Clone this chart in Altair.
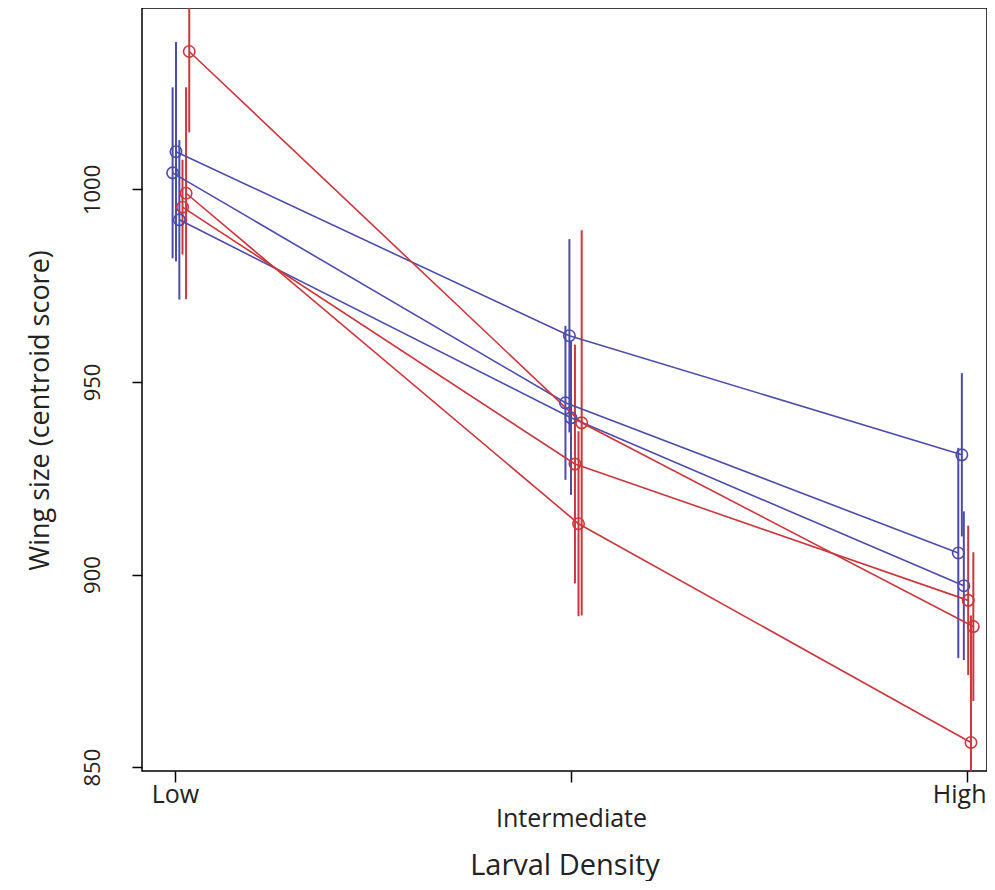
import altair as alt
import pandas as pd

# ---- data ----
levels = ["Low", "Intermediate", "High"]
series_names = ["B1", "B2", "B3", "R1", "R2", "R3"]
series_group = ["blue", "blue", "blue", "red", "red", "red"]

# mean wing size at Low / Intermediate / High
mean_b1 = [1009.8, 962.0, 931.1]
mean_b2 = [1004.3, 944.6, 905.6]
mean_b3 = [992.1, 940.7, 897.1]
mean_r1 = [1035.8, 939.4, 886.5]
mean_r2 = [999.0, 913.2, 856.4]
mean_r3 = [995.4, 928.7, 893.3]

# half-length of the error bars
err_b1 = [28.5, 25.1, 21.2]
err_b2 = [22.2, 20.0, 27.3]
err_b3 = [20.7, 20.0, 19.3]
err_r1 = [21.0, 50.0, 19.3]
err_r2 = [27.5, 24.0, 33.0]
err_r3 = [12.3, 31.0, 19.4]

# dodged x position of each point (1 = Low, 2 = Intermediate, 3 = High)
xpos_b1 = [1.0025, 1.996, 2.987]
xpos_b2 = [0.994, 1.986, 2.978]
xpos_b3 = [1.011, 2.000, 2.992]
xpos_r1 = [1.036, 2.027, 3.016]
xpos_r2 = [1.028, 2.019, 3.010]
xpos_r3 = [1.019, 2.010, 3.003]

means = [mean_b1, mean_b2, mean_b3, mean_r1, mean_r2, mean_r3]
errs = [err_b1, err_b2, err_b3, err_r1, err_r2, err_r3]
xposs = [xpos_b1, xpos_b2, xpos_b3, xpos_r1, xpos_r2, xpos_r3]

rows = []
for name, grp, m, e, xp in zip(series_names, series_group, means, errs, xposs):
    for i, lev in enumerate(levels):
        rows.append({"series": name, "group": grp, "level": lev, "x": xp[i],
                     "y": m[i], "lo": m[i] - e[i], "hi": m[i] + e[i]})
df = pd.DataFrame(rows)

color = alt.Color("group:N", scale=alt.Scale(domain=["blue", "red"],
                                             range=["#4C4CAA", "#C8383C"]),
                  legend=None)

FONT = "Open Sans"

xscale = alt.Scale(domain=[0.9167, 3.0505], nice=False, zero=False)
yscale = alt.Scale(domain=[849.0, 1047.1], nice=False, zero=False)

xaxis = alt.Axis(values=[1, 2, 3],
                 labelExpr="['', 'Low', 'Intermediate', 'High'][datum.value]",
                 title="Larval Density", domain=False, grid=False,
                 tickSize=11, tickColor="black", tickWidth=1.5,
                 labelFont=FONT, labelFontSize=25, labelColor="#222",
                 labelPadding={"condition": {"test": "datum.value == 2", "value": 24},
                               "value": 0},
                 labelAlign={"condition": {"test": "datum.value == 3", "value": "right"},
                             "value": "center"},
                 labelOffset={"condition": {"test": "datum.value == 3", "value": 19},
                              "value": 0},
                 labelFlush=False, labelOverlap=False,
                 titleFont=FONT, titleFontSize=29, titleFontWeight="normal",
                 titleColor="#222", titlePadding=20)

yaxis = alt.Axis(values=[850, 900, 950, 1000], format="d",
                 title="Wing size (centroid score)",
                 domain=False, grid=False, tickSize=10, tickColor="black",
                 tickWidth=1.5, labelAngle=270, labelAlign="center",
                 labelBaseline="bottom", labelPadding=28,
                 labelFont=FONT, labelFontSize=22, labelColor="#222",
                 titleFont=FONT, titleFontSize=27, titleFontWeight="normal",
                 titleColor="#222", titleX=-102, titleY=402, titleAngle=270,
                 titleAlign="center", titleBaseline="middle")

base = alt.Chart(df)

lines = base.mark_line(strokeWidth=1.6).encode(
    x=alt.X("x:Q", scale=xscale, axis=xaxis),
    y=alt.Y("y:Q", scale=yscale, axis=yaxis),
    detail="series:N", color=color, order="x:Q")

bars = base.mark_rule(strokeWidth=2, clip=True).encode(
    x="x:Q", y="lo:Q", y2="hi:Q", color=color)

pts = base.mark_point(shape="circle", filled=False, size=130, strokeWidth=1.6,
                      opacity=1).encode(x="x:Q", y="y:Q", color=color)

chart = (bars + lines + pts).properties(
    width=845, height=763,
    background="white",
    autosize=alt.AutoSizeParams(type="none"),
    padding={"left": 134, "top": 0, "right": 0, "bottom": 110},
).configure_view(stroke="black", strokeWidth=1.5)

chart.save("out.html", embed_options={"renderer": "svg", "actions": False})
